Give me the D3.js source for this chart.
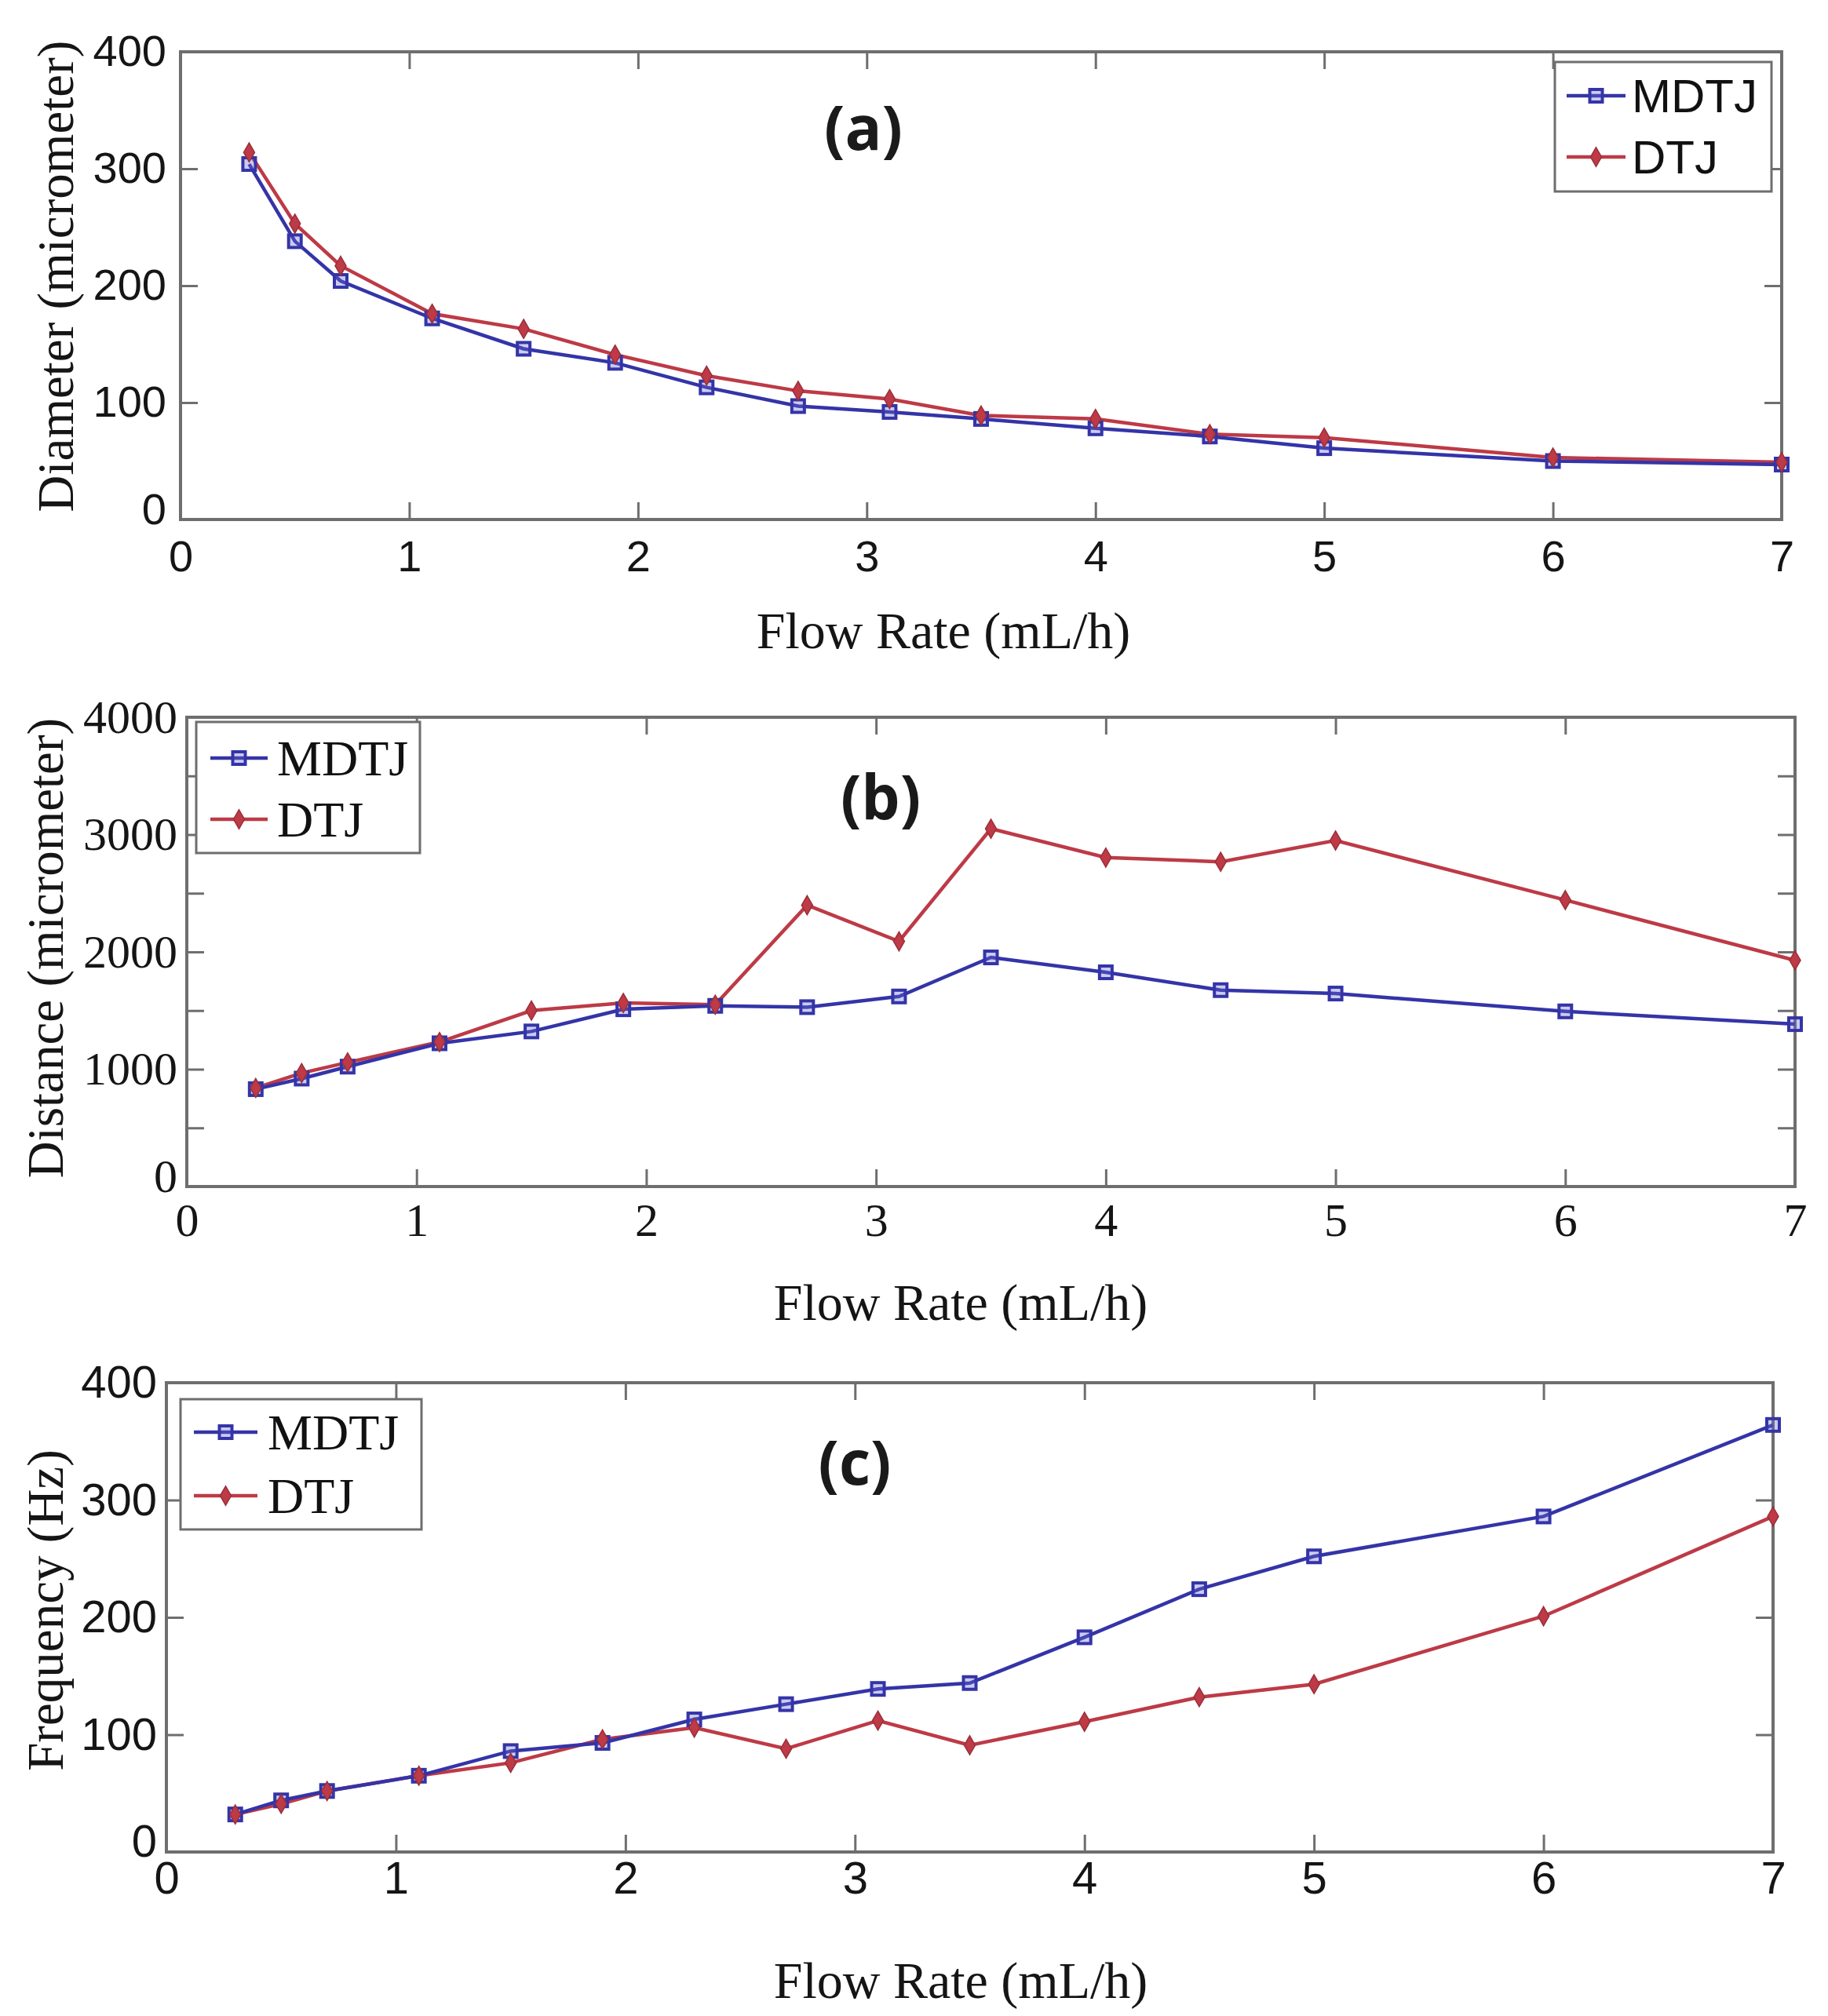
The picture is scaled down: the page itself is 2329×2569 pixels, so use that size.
<!DOCTYPE html>
<html>
<head>
<meta charset="utf-8">
<script src="https://cdn.jsdelivr.net/npm/d3@7"></script>
<style>
  body { margin: 0; background: #fff; }
  .frame { fill: none; stroke: #6e6e6e; stroke-width: 4; }
  .axis path { display: none; }
  .axis line { stroke: #6e6e6e; stroke-width: 3; }
  .axis text { fill: #151515; }
</style>
</head>
<body>
<script>
//flow rates shared by the three panels (mL/h)
var flowRate = [0.3, 0.5, 0.7, 1.1, 1.5, 1.9, 2.3, 2.7, 3.1, 3.5, 4, 4.5, 5, 6, 7];

//(a) droplet diameter (micrometer)
var diameterMDTJ = [304, 238, 204, 172, 146, 134, 113, 97, 92, 86, 78, 71, 61, 50, 47];
var diameterDTJ  = [314, 253, 217, 176, 163, 141, 123, 110, 103, 89, 86, 73, 70, 53, 49];

//(b) distance (micrometer)
var distanceMDTJ = [830, 920, 1022, 1221, 1322, 1511, 1540, 1529, 1620, 1953, 1826, 1674, 1645, 1493, 1384];
var distanceDTJ  = [840, 967, 1058, 1232, 1500, 1565, 1550, 2398, 2090, 3050, 2804, 2768, 2949, 2442, 1928];

//(c) frequency (Hz)
var frequencyMDTJ = [32, 44, 52, 65, 86, 93, 113, 126, 139, 144, 183, 224, 252, 286, 364];
var frequencyDTJ  = [32, 41, 52, 65, 76, 96, 106, 88, 112, 91, 111, 132, 143, 201, 286];

//ticks and labels
var xTicks = [0, 1, 2, 3, 4, 5, 6, 7];
var yTicksA = [0, 100, 200, 300, 400];
var yTicksB = [0, 500, 1000, 1500, 2000, 2500, 3000, 3500, 4000];
var yTicksC = [0, 100, 200, 300, 400];
var seriesNames = ["MDTJ", "DTJ"];
var xTitle = "Flow Rate (mL/h)";

var width = 2329, height = 2569;
var blue = "#3434a8", red = "#bd3a46";
var sans = "'Liberation Sans', Arial, Helvetica, sans-serif";
var serif = "'Liberation Serif', 'Times New Roman', serif";

var svg = d3.select("body").append("svg")
    .attr("width", width)
    .attr("height", height);

var panels = [
    {tag: "(a)", box: [230, 2270, 66, 662], ymax: 400, yTicks: yTicksA, yLabelEvery: 100,
     mdtj: diameterMDTJ, dtj: diameterDTJ, yTitle: "Diameter (micrometer)",
     tickFont: sans, tickSize: 56, padX: 26, padY: 18, legFont: sans, legSize: 60,
     legend: [1981, 79, 276, 165], legRows: [122, 200], legLine: [1996, 2071], legText: 2079,
     tagPos: [1100, 161], xTitlePos: [1202, 826], yTitlePos: [71, 352]},
    {tag: "(b)", box: [238, 2287, 914, 1512], ymax: 4000, yTicks: yTicksB, yLabelEvery: 1000,
     mdtj: distanceMDTJ, dtj: distanceDTJ, yTitle: "Distance (micrometer)",
     tickFont: serif, tickSize: 60, padX: 20, padY: 12, legFont: serif, legSize: 64,
     legend: [250, 920, 285, 167], legRows: [966, 1044], legLine: [268, 341], legText: 353,
     tagPos: [1122, 1014], xTitlePos: [1224, 1682], yTitlePos: [58, 1208]},
    {tag: "(c)", box: [212, 2259, 1762, 2360], ymax: 400, yTicks: yTicksC, yLabelEvery: 100,
     mdtj: frequencyMDTJ, dtj: frequencyDTJ, yTitle: "Frequency (Hz)",
     tickFont: sans, tickSize: 58, padX: 12, padY: 12, legFont: serif, legSize: 64,
     legend: [230, 1783, 307, 166], legRows: [1825, 1906], legLine: [247, 328], legText: 341,
     tagPos: [1089, 1862], xTitlePos: [1224, 2546], yTitlePos: [58, 2052]}
];

panels.forEach(drawPanel);

function drawPanel(p){
    var left = p.box[0], right = p.box[1], top = p.box[2], bottom = p.box[3];

    var x = d3.scaleLinear().domain([0, 7]).range([left, right]);
    var y = d3.scaleLinear().domain([0, p.ymax]).range([bottom, top]);

    var g = svg.append("g");

    //inward ticks on all four sides, labels only bottom/left
    var fmtY = function(d){ return d % p.yLabelEvery === 0 ? d : ""; };

    g.append("g").attr("class", "axis")
        .attr("transform", "translate(0," + bottom + ")")
        .call(d3.axisBottom(x).tickValues(xTicks).tickFormat(d3.format("d"))
            .tickSizeInner(-22).tickSizeOuter(0).tickPadding(p.padX))
        .selectAll("text").style("font-family", p.tickFont).style("font-size", p.tickSize + "px");

    g.append("g").attr("class", "axis")
        .attr("transform", "translate(0," + top + ")")
        .call(d3.axisTop(x).tickValues(xTicks).tickSizeInner(-22).tickSizeOuter(0).tickFormat(""));

    var yAxis = g.append("g").attr("class", "axis")
        .attr("transform", "translate(" + left + ",0)")
        .call(d3.axisLeft(y).tickValues(p.yTicks).tickSizeInner(-22).tickSizeOuter(0).tickPadding(p.padY).tickFormat(fmtY));
    yAxis.selectAll("text").style("font-family", p.tickFont).style("font-size", p.tickSize + "px");
    //matlab style: the y "0" sits a little above the x "0"
    yAxis.selectAll("text").filter(function(d){ return d === 0; })
        .attr("dy", "0.1em");

    g.append("g").attr("class", "axis")
        .attr("transform", "translate(" + right + ",0)")
        .call(d3.axisRight(y).tickValues(p.yTicks).tickSizeInner(-22).tickSizeOuter(0).tickFormat(""));

    g.append("rect").attr("class", "frame")
        .attr("x", left).attr("y", top)
        .attr("width", right - left).attr("height", bottom - top);

    //series lines
    var line = d3.line()
        .x(function(d){ return x(d[0]); })
        .y(function(d){ return y(d[1]); });

    var dtjData = d3.zip(flowRate, p.dtj);
    var mdtjData = d3.zip(flowRate, p.mdtj);

    g.append("path").datum(dtjData)
        .attr("d", line).attr("fill", "none")
        .attr("stroke", red).attr("stroke-width", 4.5);
    g.append("path").datum(mdtjData)
        .attr("d", line).attr("fill", "none")
        .attr("stroke", blue).attr("stroke-width", 4.5);

    drawMarkers(g, mdtjData.map(function(d){ return [x(d[0]), y(d[1])]; }), "square");
    drawMarkers(g, dtjData.map(function(d){ return [x(d[0]), y(d[1])]; }), "diamond");

    //legend
    var lg = svg.append("g");
    lg.append("rect")
        .attr("x", p.legend[0]).attr("y", p.legend[1])
        .attr("width", p.legend[2]).attr("height", p.legend[3])
        .attr("fill", "#fff").attr("stroke", "#6e6e6e").attr("stroke-width", 3);
    seriesNames.forEach(function(name, i){
        var ly = p.legRows[i];
        var col = i === 0 ? blue : red;
        lg.append("line")
            .attr("x1", p.legLine[0]).attr("x2", p.legLine[1])
            .attr("y1", ly).attr("y2", ly)
            .attr("stroke", col).attr("stroke-width", 4.5);
        drawMarkers(lg, [[(p.legLine[0] + p.legLine[1]) / 2, ly]], i === 0 ? "square" : "diamond");
        lg.append("text")
            .attr("x", p.legText).attr("y", ly)
            .attr("dominant-baseline", "central")
            .style("font-family", p.legFont).style("font-size", p.legSize + "px")
            .attr("fill", "#111")
            .text(name);
    });

    //panel tag
    svg.append("text")
        .attr("x", p.tagPos[0]).attr("y", p.tagPos[1])
        .attr("text-anchor", "middle").attr("dominant-baseline", "central")
        .style("font-family", "'Open Sans', 'DejaVu Sans', sans-serif")
        .style("font-weight", "bold").style("font-size", "78px")
        .attr("fill", "#1a1a1a")
        .text(p.tag);

    //axis titles
    svg.append("text")
        .attr("x", p.xTitlePos[0]).attr("y", p.xTitlePos[1])
        .attr("text-anchor", "middle")
        .style("font-family", serif).style("font-size", "66px")
        .attr("fill", "#151515")
        .text(xTitle);

    svg.append("text")
        .attr("transform", "translate(" + p.yTitlePos[0] + "," + p.yTitlePos[1] + ") rotate(-90)")
        .attr("text-anchor", "middle").attr("dominant-baseline", "central")
        .style("font-family", serif).style("font-size", "65px")
        .attr("fill", "#151515")
        .text(p.yTitle);
}

function drawMarkers(sel, pts, kind){
    if (kind === "square"){
        sel.selectAll(null).data(pts).enter().append("rect")
            .attr("x", function(d){ return d[0] - 8; })
            .attr("y", function(d){ return d[1] - 8; })
            .attr("width", 16).attr("height", 16)
            .attr("fill", "#6a6ad0").attr("fill-opacity", 0.35)
            .attr("stroke", blue).attr("stroke-width", 4);
    } else {
        var sym = d3.symbol().type(d3.symbolDiamond).size(170);
        sel.selectAll(null).data(pts).enter().append("path")
            .attr("d", sym)
            .attr("transform", function(d){ return "translate(" + d[0] + "," + d[1] + ")"; })
            .attr("fill", red).attr("stroke", "#9a2f3a").attr("stroke-width", 1.5);
    }
}
</script>
</body>
</html>
